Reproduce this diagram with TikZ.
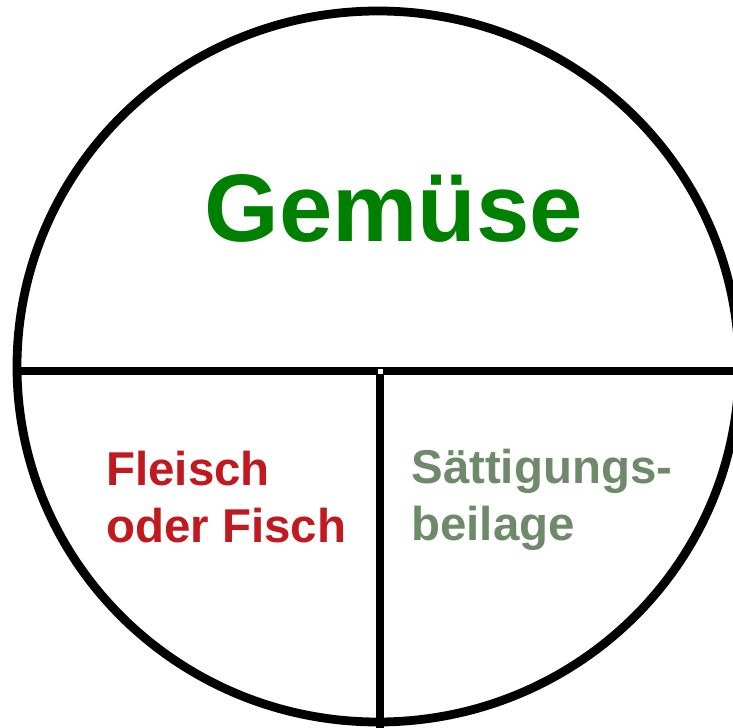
\documentclass[tikz,border=0pt]{standalone}
\usepackage{fontspec}
\setmainfont{Liberation Sans}
\usepackage{xcolor}
\usepackage{tikz}
\definecolor{veg}{HTML}{008000}
\definecolor{meat}{HTML}{C0191F}
\definecolor{side}{HTML}{6F8A6B}
\tikzset{plate/.style={line width=5pt},label/.style={font=\bfseries,inner sep=0pt,anchor=base west,align=left}}
\begin{document}
\begin{tikzpicture}
\useasboundingbox (0,0) rectangle (14.66,14.54);
\begin{scope}
\clip (0,0) rectangle (14.66,14.54);
\draw[plate] (7.56,7.21) ellipse [x radius=7.22,y radius=7.11];
\coordinate (mleft) at (0.34,7.12);\coordinate (mright) at (14.8,7.12);
\coordinate (mid) at (7.6,7.12);\coordinate (bottom) at (7.6,-0.2);
\draw[plate] (mleft)--(mright);\draw[plate] (mid)--(bottom);
\fill[white] (7.55,7.05) rectangle (7.65,7.15);
\end{scope}
\node[label,text=veg,font=\bfseries\fontsize{54.6}{60}\selectfont] (gemuese) at (4.08,9.70) {Gemüse};
\node[label,text=meat,font=\bfseries\fontsize{27}{32.3}\selectfont] (fleisch) at (2.12,3.70) {Fleisch\\oder Fisch};
\node[label,text=side,font=\bfseries\fontsize{27}{32.3}\selectfont] (beilage) at (8.22,3.74) {Sättigungs-\\beilage};
\end{tikzpicture}
\end{document}
